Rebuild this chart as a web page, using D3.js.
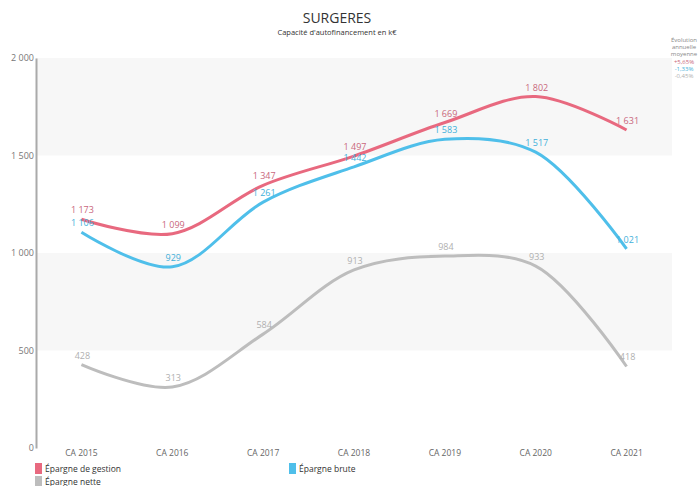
<!DOCTYPE html>
<html><head><meta charset="utf-8">
<script src="https://cdn.jsdelivr.net/npm/d3@7"></script>
<style>body{margin:0;background:#fff;}svg{display:block;font-family:"Open Sans",sans-serif;}</style>
</head><body><svg id="c" width="698" height="486"></svg>
<script>
const categories = ["CA 2015","CA 2016","CA 2017","CA 2018","CA 2019","CA 2020","CA 2021"];
const gestion = [1173,1099,1347,1497,1669,1802,1631];
const brute = [1106,929,1261,1442,1583,1517,1021];
const nette = [428,313,584,913,984,933,418];
const seriesNames = ["Épargne de gestion","Épargne brute","Épargne nette"];
const evolutions = ["+5,65%","-1,33%","-0,45%"];
const yTicks = [0,500,1000,1500,2000];

const colors = ["#e8697f","#4fbfea","#bdbdbd"];
const labelColors = ["#c9677c","#3fb0da","#b0b0b0"];
const series = [gestion, brute, nette];

const svg = d3.select("#c");
const x = d3.scaleBand().domain(categories).range([36,672]);
const y = d3.scaleLinear().domain([0,2000]).range([448,58]);
const fmt = v => d3.format(",")(v).replace(/,/g," ");

// bands
[[1500,2000],[500,1000]].forEach(b=>{
  svg.append("rect").attr("x",36).attr("width",636)
    .attr("y",y(b[1])).attr("height",y(b[0])-y(b[1])).attr("fill","#f7f7f7");
});

// y axis
const ya = svg.append("g").attr("transform","translate(36,0)")
  .call(d3.axisLeft(y).tickValues(yTicks).tickSize(0).tickPadding(2).tickFormat(fmt));
ya.select(".domain").attr("stroke","#aaa").attr("stroke-width",2);
ya.selectAll("text").attr("fill","#777").attr("font-size",9).attr("font-family","Open Sans");

// x axis
const xa = svg.append("g").attr("transform","translate(0,448)")
  .call(d3.axisBottom(x).tickSize(0).tickPadding(2));
xa.select(".domain").remove();
xa.selectAll("text").attr("fill","#666").attr("font-size",8.5).attr("font-family","Open Sans");

const line = d3.line().x((d,i)=>x(categories[i])+x.bandwidth()/2).y(d=>y(d)).curve(d3.curveCatmullRom.alpha(0.5));

[2,1,0].forEach(k=>{
  svg.append("path").datum(series[k]).attr("d",line).attr("fill","none")
    .attr("stroke",colors[k]).attr("stroke-width",3);
});
[2,1,0].forEach(k=>{
  svg.append("g").selectAll("text").data(series[k]).join("text")
    .attr("x",(d,i)=>x(categories[i])+x.bandwidth()/2+1)
    .attr("y",d=>y(d)-6)
    .attr("text-anchor","middle").attr("font-size",9).attr("fill",labelColors[k])
    .text(fmt);
});

// title
svg.append("text").attr("x",337).attr("y",23).attr("text-anchor","middle")
  .attr("font-size",14).attr("fill","#333").text("SURGERES");
svg.append("text").attr("x",337).attr("y",35).attr("text-anchor","middle")
  .attr("font-size",7.5).attr("fill","#333").text("Capacité d'autofinancement en k€");

// evolution box
const ev = ["Évolution","annuelle","moyenne"];
ev.forEach((t,i)=>svg.append("text").attr("x",684).attr("y",42+i*7.2).attr("text-anchor","middle")
  .attr("font-size",6).attr("fill","#888").text(t));
evolutions.forEach((t,i)=>svg.append("text").attr("x",684).attr("y",64+i*7.2).attr("text-anchor","middle")
  .attr("font-size",6).attr("fill",labelColors[i]).text(t));

// legend
const leg = [[35,463],[289,463],[35,476]];
seriesNames.forEach((n,i)=>{
  svg.append("rect").attr("x",leg[i][0]).attr("y",leg[i][1]).attr("width",7).attr("height",11).attr("fill",colors[i]);
  svg.append("text").attr("x",leg[i][0]+10).attr("y",leg[i][1]+8.5).attr("font-size",8.5).attr("fill","#333").text(n);
});
</script></body></html>
